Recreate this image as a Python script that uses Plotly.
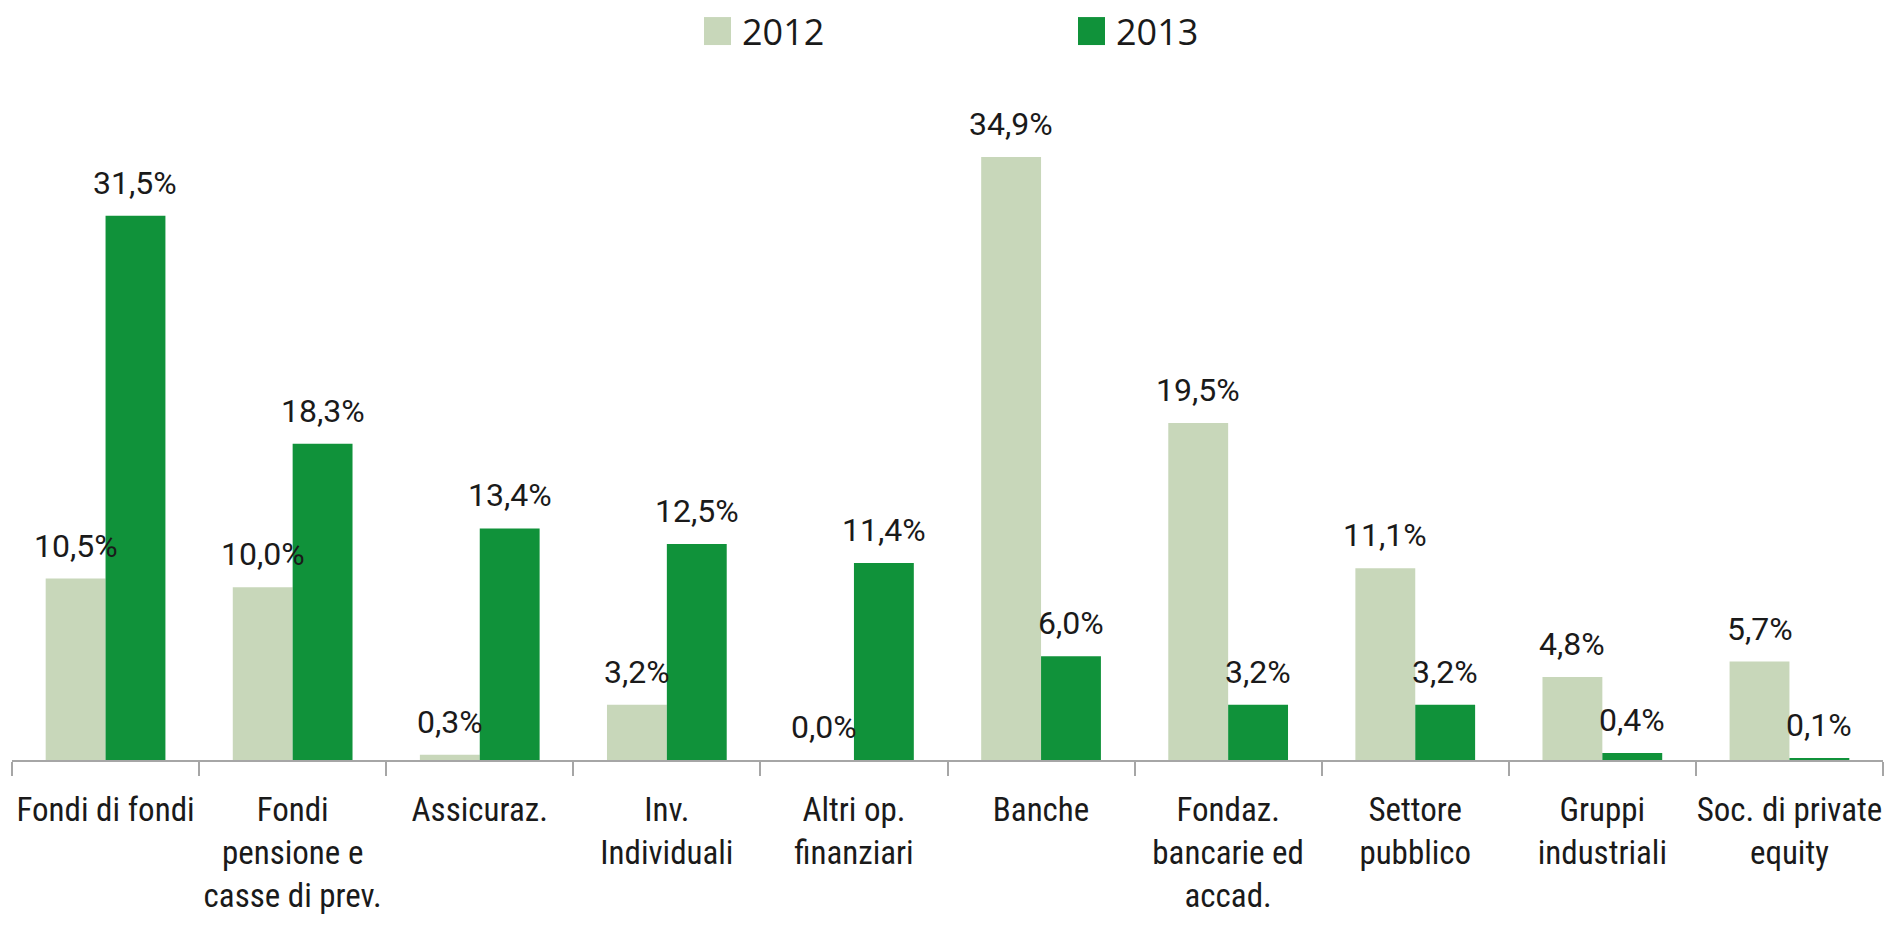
import plotly.graph_objects as go

categories = [
    "Fondi di fondi",
    "Fondi<br>pensione e<br>casse di prev.",
    "Assicuraz.",
    "Inv.<br>Individuali",
    "Altri op.<br>finanziari",
    "Banche",
    "Fondaz.<br>bancarie ed<br>accad.",
    "Settore<br>pubblico",
    "Gruppi<br>industriali",
    "Soc. di private<br>equity",
]
series_names = ["2012", "2013"]
values_2012 = [10.5, 10.0, 0.3, 3.2, 0.0, 34.9, 19.5, 11.1, 4.8, 5.7]
values_2013 = [31.5, 18.3, 13.4, 12.5, 11.4, 6.0, 3.2, 3.2, 0.4, 0.1]

colors = ["#C8D7BA", "#10923A"]
CAT_FONT = "Roboto Condensed, Liberation Sans Narrow, Roboto, sans-serif"
NUM_FONT = "Roboto, sans-serif"
TEXT_COLOR = "#1a1a1a"


def fmt(v):
    return f"{v:.1f}".replace(".", ",") + "%"


bargap = 0.36
fig = go.Figure()
for name, vals, col in zip(series_names, [values_2012, values_2013], colors):
    fig.add_trace(go.Bar(
        x=categories, y=vals, name=name,
        marker=dict(color=col, line=dict(width=0)),
        showlegend=False, hoverinfo="skip",
    ))

# value labels above each bar
bw = (1 - bargap) / 2
annotations = []
for k, vals in enumerate([values_2012, values_2013]):
    off = (k - 0.5) * bw
    for i, v in enumerate(vals):
        annotations.append(dict(
            x=i + off, y=v, xref="x", yref="y", text=fmt(v),
            showarrow=False, yanchor="bottom", xanchor="center", yshift=12,
            font=dict(family=NUM_FONT, size=32, color=TEXT_COLOR),
        ))

# figure is rendered at (8,8) offset, size ~1880x910
PW, PH, MT = 1871, 660.5, 92
legend_x = [(704 - 12) / PW, (1078 - 12) / PW]
shapes = []
for name, col, lx in zip(series_names, colors, legend_x):
    shapes.append(dict(
        type="rect", xref="paper", yref="paper",
        x0=lx, x1=lx + 27 / PW, y0=1 + (100 - 45) / PH, y1=1 + (100 - 17) / PH,
        fillcolor=col, line=dict(width=0),
    ))
    annotations.append(dict(
        x=lx + 36 / PW, y=1 + (100 - 31) / PH, xref="paper", yref="paper",
        text=name, showarrow=False, xanchor="left", yanchor="middle",
        font=dict(family="Open Sans, sans-serif", size=36, color=TEXT_COLOR),
    ))

fig.update_layout(
    barmode="group", bargap=bargap, bargroupgap=0,
    plot_bgcolor="white", paper_bgcolor="white",
    margin=dict(l=4, r=5, t=MT, b=157.5, autoexpand=False),
    annotations=annotations, shapes=shapes,
    font=dict(family=CAT_FONT, size=33, color=TEXT_COLOR),
)
fig.update_xaxes(
    type="category", showline=True, linecolor="#a6a6a6", linewidth=1.5,
    ticks="outside", tickson="boundaries", ticklen=14, tickcolor="#a6a6a6", tickwidth=1.5,
    ticklabelstandoff=20, showgrid=False, tickangle=0, automargin=False,
    tickfont=dict(family=CAT_FONT, size=33, color=TEXT_COLOR),
)
fig.update_yaxes(visible=False, range=[0, PH / 17.29], showgrid=False, automargin=False)

fig.write_html("out.html")
